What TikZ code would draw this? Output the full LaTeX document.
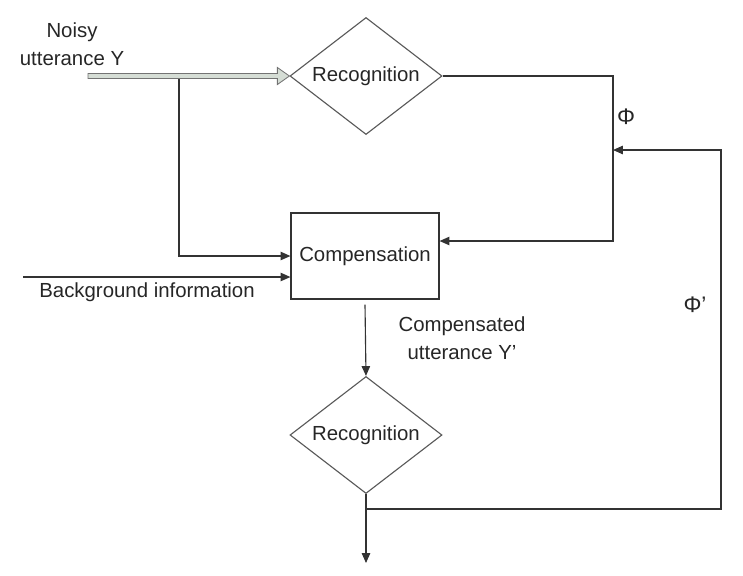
\documentclass[tikz,border=0pt]{standalone}
\usepackage{fontspec}
\setmainfont{Liberation Sans}
\usetikzlibrary{shapes.geometric, arrows.meta, calc}

\begin{document}
\begin{tikzpicture}[x=0.025cm, y=-0.025cm,
    every node/.style={font=\fontsize{14.5}{20}\selectfont, text=black!85},
    decision/.style={diamond, draw=black!65, line width=0.8pt, shape aspect=1.3,
        inner sep=0pt, minimum width=3.8cm, minimum height=2.925cm},
    block/.style={rectangle, draw=black!80, line width=0.8pt,
        minimum width=3.7cm, minimum height=2.15cm},
    arr/.style={draw=black!80, line width=0.8pt, -{Triangle[length=7pt, width=6pt]}},
    plain/.style={draw=black!80, line width=0.8pt}]
    \useasboundingbox (0,0) rectangle (743,575);

    % Blocks
    \node[decision] (rec1) at (366,76) {Recognition};
    \node[block] (comp) at (365,256) {Compensation};
    \node[decision] (rec2) at (366,435) {Recognition};

    % Labels
    \node[align=center] (noisy) at (72,44) {Noisy\\utterance Y};
    \node (bglabel) at (147,292) {Background information};
    \node[align=center] (complabel) at (462,338) {Compensated\\utterance Y'};
    \node[font=\fontsize{16}{20}\selectfont] (phi) at (626,117) {Φ};
    \node[font=\fontsize{16}{20}\selectfont] (phiprime) at (695,305) {Φ'};

    % Helper points
    \coordinate (in1) at (88,76);
    \coordinate (branch) at (179,76);
    \coordinate (bgin) at (23,277);
    \coordinate (phijoin) at (613,241);
    \coordinate (fbsplit) at (366,509);
    \coordinate (fbcorner) at (721,150);
    \coordinate (out) at (366,563);

    % Noisy input - hollow double arrow
    \filldraw[fill=green!10!gray!30, draw=black!55, line width=0.6pt]
        ($(in1)+(0,-2.5)$) -- ($(rec1.west)+(-12,-2.5)$) -- ($(rec1.west)+(-12,-8.5)$)
        -- (rec1.west) -- ($(rec1.west)+(-12,8.5)$) -- ($(rec1.west)+(-12,2.5)$)
        -- ($(in1)+(0,2.5)$) -- cycle;

    % Connectors into compensation
    \draw[arr] ($(branch)+(0,3)$) |- (comp.west);
    \draw[arr] (bgin) -- (comp.west |- bgin);
    \draw[arr] (rec1.east) -| (phijoin) -- (comp.east |- phijoin);

    % Down the chain
    \draw[arr] ($(comp.south)+(0,5)$) -- (rec2.north);
    \draw[arr] (rec2.south) -- (out);

    % Feedback path
    \draw[arr] (fbsplit) -| (fbcorner) -- (phijoin |- fbcorner);

\end{tikzpicture}
\end{document}
